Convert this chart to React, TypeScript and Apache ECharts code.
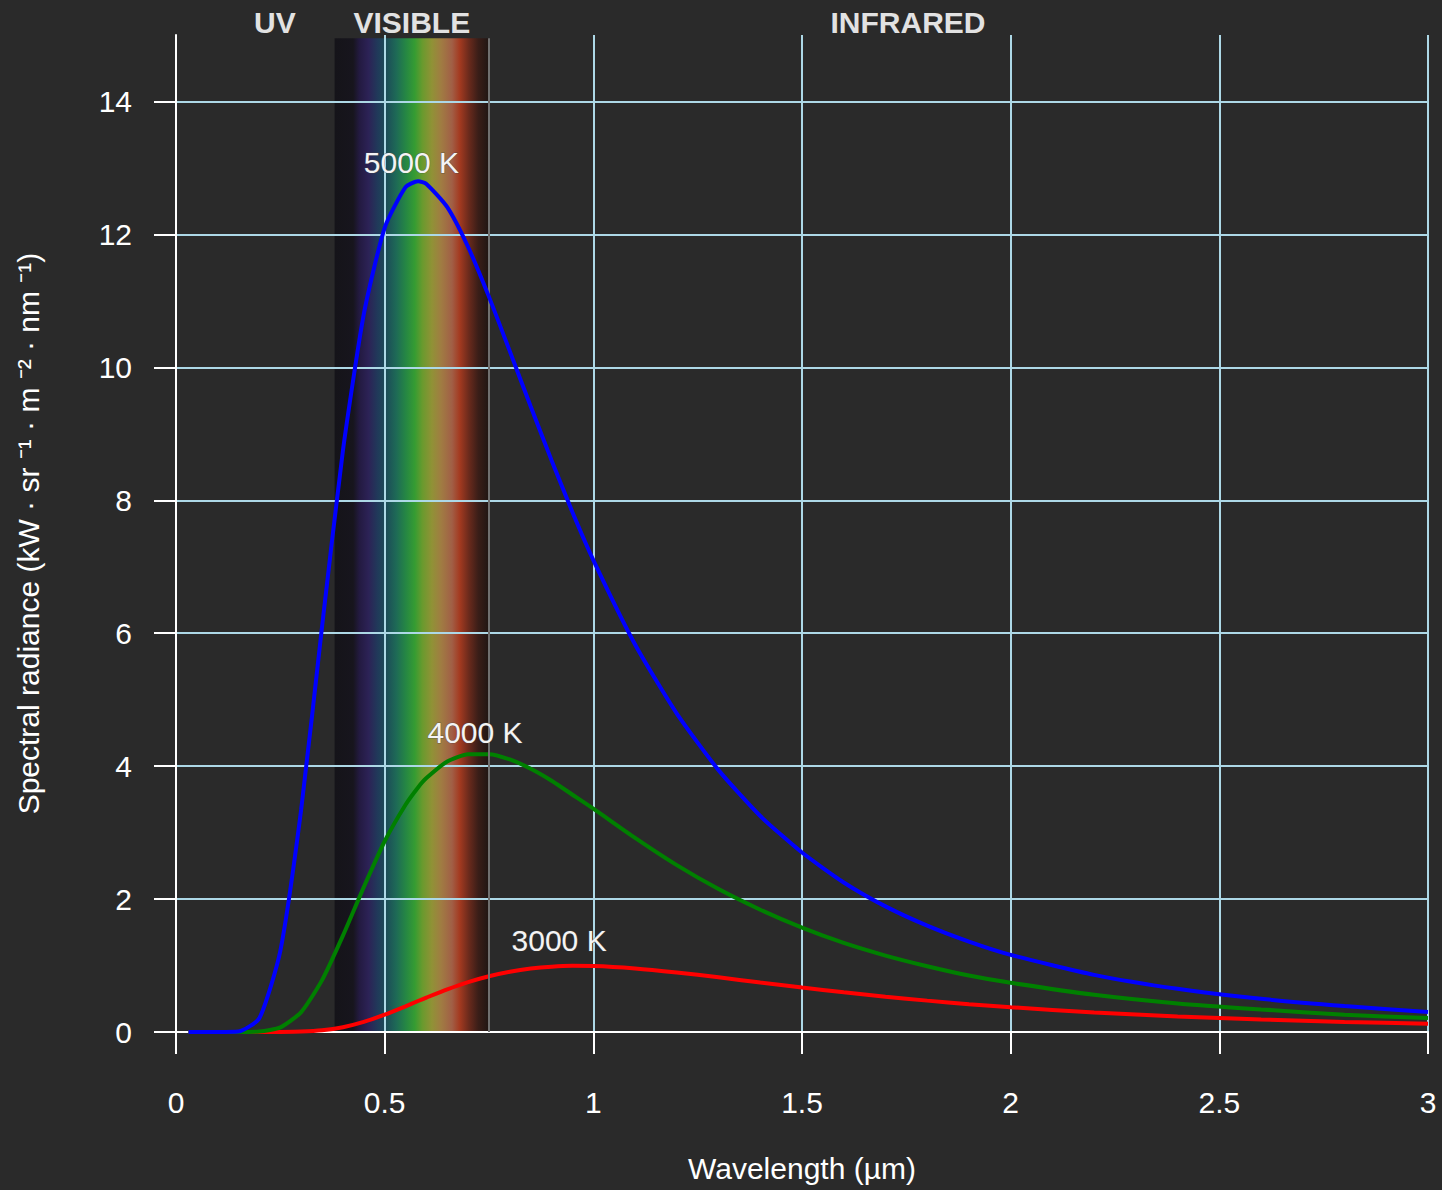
import React, { useEffect, useRef } from "react";
import * as echarts from "echarts";

// ---- data ----
const wavelengths = [0.03, 0.1, 0.15, 0.2, 0.25, 0.3, 0.35, 0.4, 0.45, 0.5, 0.55, 0.58, 0.6, 0.65, 0.7, 0.75, 0.8, 0.85, 0.9, 0.95, 1.0, 1.1, 1.2, 1.3, 1.4, 1.5, 1.6, 1.7, 1.8, 1.9, 2.0, 2.2, 2.4, 2.6, 2.8, 3.0];
const radiance5000 = [0, 0, 0.007, 0.21, 1.22, 3.35, 6.1, 8.75, 10.8, 12.1, 12.71, 12.8, 12.76, 12.41, 11.81, 11.06, 10.24, 9.41, 8.6, 7.82, 7.1, 5.83, 4.79, 3.94, 3.25, 2.7, 2.25, 1.89, 1.6, 1.36, 1.16, 0.86, 0.65, 0.5, 0.39, 0.3];
const radiance4000 = [0, 0, 0, 0.006, 0.069, 0.3, 0.78, 1.45, 2.18, 2.87, 3.42, 3.68, 3.82, 4.07, 4.18, 4.18, 4.1, 3.96, 3.78, 3.57, 3.36, 2.92, 2.51, 2.15, 1.84, 1.57, 1.34, 1.15, 0.99, 0.85, 0.74, 0.56, 0.43, 0.34, 0.26, 0.21];
const radiance3000 = [0, 0, 0, 0, 0.001, 0.006, 0.025, 0.072, 0.152, 0.26, 0.386, 0.466, 0.518, 0.642, 0.751, 0.839, 0.907, 0.955, 0.983, 0.995, 0.993, 0.957, 0.896, 0.823, 0.744, 0.669, 0.597, 0.531, 0.472, 0.419, 0.372, 0.295, 0.235, 0.188, 0.152, 0.124];

const seriesNames = ["5000 K", "4000 K", "3000 K"];
const seriesColors = ["#0000ff", "#008000", "#ff0000"];
const curveLabelPos = [
  [0.564, 13.08],
  [0.7165, 4.51],
  [0.918, 1.38],
];

const regionNames = ["UV", "VISIBLE", "INFRARED"];
const regionLabelX = [0.237, 0.565, 1.754];
const regionLabelY = 15.19;

const visibleStart = 0.38;
const visibleEnd = 0.75;
const visibleTop = 14.95;
const spectrumStops = [
  [0.0, "#151419"],
  [0.12, "#17151d"],
  [0.16, "#231a40"],
  [0.22, "#2c2256"],
  [0.28, "#203a5a"],
  [0.33, "#1c4a58"],
  [0.4, "#1e6a56"],
  [0.46, "#258644"],
  [0.52, "#369c32"],
  [0.57, "#6a9a2e"],
  [0.63, "#909236"],
  [0.69, "#a07c42"],
  [0.76, "#a15f46"],
  [0.81, "#a43a20"],
  [0.87, "#6a2a1c"],
  [0.93, "#3a1e18"],
  [1.0, "#1f1614"],
];

const xTicks = { min: 0, max: 3, interval: 0.5 };
const yTickValues = [0, 2, 4, 6, 8, 10, 12, 14];
const yMax = 15;

const FONT = "'Liberation Sans', Arial, Helvetica, sans-serif";
const FS = 30;

export default function App() {
  const ref = useRef<HTMLDivElement>(null);
  useEffect(() => {
    if (!ref.current) return;
    const chart = echarts.init(ref.current, undefined, { renderer: "svg" });
    const curves = [radiance5000, radiance4000, radiance3000];
    const option: any = {
      animation: false,
      backgroundColor: "#2a2a2a",
      grid: { left: 176, right: 14, top: 35, bottom: 158, containLabel: false },
      xAxis: {
        type: "value",
        min: xTicks.min,
        max: xTicks.max,
        interval: xTicks.interval,
        z: 2,
        name: "Wavelength (µm)",
        nameLocation: "middle",
        nameGap: 121,
        nameTextStyle: { color: "#ffffff", fontSize: FS, fontFamily: FONT },
        axisLine: { show: true, onZero: false, lineStyle: { color: "#ffffff", width: 2 } },
        axisTick: { show: true, length: 22, lineStyle: { color: "#ffffff", width: 2 } },
        axisLabel: { color: "#ffffff", fontSize: FS, margin: 55, fontFamily: FONT },
        splitLine: { show: true, lineStyle: { color: "#add8e6", width: 2 } },
      },
      yAxis: {
        type: "value",
        min: 0,
        max: yMax,
        interval: 2,
        z: 2,
        name: "Spectral radiance (kW · sr ⁻¹ · m ⁻² · nm ⁻¹)",
        nameLocation: "middle",
        nameGap: 133,
        nameTextStyle: { color: "#ffffff", fontSize: FS, fontFamily: FONT },
        axisLine: { show: true, onZero: false, lineStyle: { color: "#ffffff", width: 2 } },
        axisTick: { show: true, length: 22, customValues: yTickValues, lineStyle: { color: "#ffffff", width: 2 } },
        axisLabel: { color: "#ffffff", fontSize: FS, margin: 44, fontFamily: FONT, customValues: yTickValues },
        splitLine: { show: true, lineStyle: { color: "#add8e6", width: 2 } },
      },
      series: [
        {
          type: "line",
          name: "visible",
          z: 1,
          data: [],
          silent: true,
          markArea: {
            silent: true,
            label: { show: false },
            itemStyle: {
              color: new echarts.graphic.LinearGradient(
                0, 0, 1, 0,
                spectrumStops.map(([o, c]) => ({ offset: o as number, color: c as string }))
              ),
            },
            data: [[{ xAxis: visibleStart, yAxis: 0 }, { xAxis: visibleEnd, yAxis: visibleTop }]],
          },
          markLine: {
            silent: true,
            symbol: ["none", "none"],
            label: { show: false },
            lineStyle: { color: "#707070", width: 2, type: "solid" },
            data: [[{ coord: [visibleEnd, 0] }, { coord: [visibleEnd, visibleTop] }]],
          },
        },
        ...curves.map((vals, i) => ({
          type: "line",
          name: seriesNames[i],
          z: 3 + (2 - i),
          data: wavelengths.map((w, j) => [w, vals[j]]),
          showSymbol: false,
          smooth: 0.2,
          lineStyle: { color: seriesColors[i], width: 4 },
          itemStyle: { color: seriesColors[i] },
        })),
      ],
    };
    chart.setOption(option);

    const px = (x: number, y: number) => chart.convertToPixel({ gridIndex: 0 }, [x, y]) as number[];
    const graphic: any[] = [];
    regionNames.forEach((t, i) => {
      const p = px(regionLabelX[i], regionLabelY);
      graphic.push({
        type: "text",
        x: p[0],
        y: p[1],
        z: 10,
        style: {
          text: t,
          fill: "#e2e2e2",
          fontSize: FS,
          fontWeight: "bold",
          fontFamily: FONT,
          align: "center",
          verticalAlign: "middle",
          textAlign: "center",
          textVerticalAlign: "middle",
        },
      });
    });
    seriesNames.forEach((t, i) => {
      const p = px(curveLabelPos[i][0], curveLabelPos[i][1]);
      graphic.push({
        type: "text",
        x: p[0],
        y: p[1],
        z: 10,
        style: {
          text: t,
          fill: "#f4f4f4",
          fontSize: FS,
          fontFamily: FONT,
          align: "center",
          verticalAlign: "middle",
          textAlign: "center",
          textVerticalAlign: "middle",
          stroke: "rgba(70,70,70,0.6)",
          lineWidth: 1,
        },
      });
    });
    chart.setOption({ graphic });

    return () => chart.dispose();
  }, []);
  return <div ref={ref} style={{ position: "absolute", left: 0, top: 0, width: 1442, height: 1190 }} />;
}
